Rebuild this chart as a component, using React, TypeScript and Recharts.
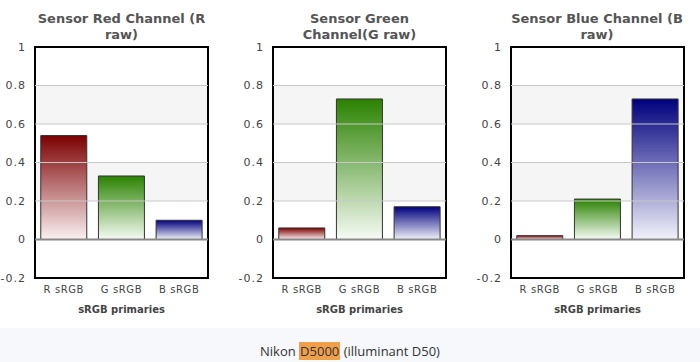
import { Bar, BarChart, Cell, ReferenceArea, ReferenceLine, XAxis, YAxis } from 'recharts';

const categories = ['R sRGB', 'G sRGB', 'B sRGB'];
const redChannel = [0.54, 0.33, 0.1];
const greenChannel = [0.06, 0.73, 0.17];
const blueChannel = [0.02, 0.21, 0.73];
const yTicks = [-0.2, 0, 0.2, 0.4, 0.6, 0.8, 1];
const grayBands = [
  [0.6, 0.8],
  [0.2, 0.4],
];
const gridLines = [0.2, 0.4, 0.6, 0.8];

const panels = [
  { id: 'r', title: ['Sensor Red Channel (R', 'raw)'], values: redChannel },
  { id: 'g', title: ['Sensor Green', 'Channel(G raw)'], values: greenChannel },
  { id: 'b', title: ['Sensor Blue Channel (B', 'raw)'], values: blueChannel },
];

const gradients = [
  { key: 'red', top: '#7c0000', bottom: '#fbf1f2' },
  { key: 'green', top: '#2a8200', bottom: '#f6fbf4' },
  { key: 'blue', top: '#00007e', bottom: '#f2f2fb' },
];

const PANEL_W = 233;
const PANEL_H = 328;
const PANEL_X = [0, 238, 475.5];

function Panel({ id, title, values, left }: { id: string; title: string[]; values: number[]; left: number }) {
  const data = categories.map((name, i) => ({ name, value: values[i] }));
  return (
    <div style={{ position: 'absolute', left, top: 0, width: PANEL_W, height: PANEL_H }}>
      <div
        style={{
          position: 'absolute',
          left: 35,
          width: 173,
          top: 11,
          textAlign: 'center',
          fontWeight: 'bold',
          fontSize: 13,
          lineHeight: '16px',
          color: '#555',
          whiteSpace: 'nowrap',
        }}
      >
        <div>{title[0]}</div>
        <div>{title[1]}</div>
      </div>
      <BarChart
        width={PANEL_W}
        height={PANEL_H}
        data={data}
        margin={{ top: 47, right: 25, left: 0, bottom: 0 }}
        barCategoryGap="10%"
      >
        <defs>
          {gradients.map((g) => (
            <linearGradient key={g.key} id={`${id}-${g.key}`} x1="0" y1="0" x2="0" y2="1">
              <stop offset="0%" stopColor={g.top} />
              <stop offset="100%" stopColor={g.bottom} />
            </linearGradient>
          ))}
        </defs>
        {grayBands.map(([a, b]) => (
          <ReferenceArea key={a} y1={a} y2={b} fill="#f5f5f5" fillOpacity={1} stroke="none" />
        ))}
        {gridLines.map((v) => (
          <ReferenceLine key={v} y={v} stroke="#c8c8c8" strokeWidth={1} />
        ))}
        <XAxis
          dataKey="name"
          height={50}
          axisLine={false}
          tickLine={false}
          tick={{ fontSize: 10, fill: '#444', letterSpacing: 0.6 }}
          label={{
            value: 'sRGB primaries',
            position: 'insideBottom',
            offset: 15,
            fontSize: 10,
            fontWeight: 'bold',
            fill: '#444',
          }}
        />
        <YAxis
          width={35}
          domain={[-0.2, 1]}
          ticks={yTicks}
          interval={0}
          axisLine={false}
          tickLine={false}
          tick={{ fontSize: 11, fill: '#444', letterSpacing: 1 }}
          tickMargin={3}
        />
        <Bar dataKey="value" stroke="#333" strokeWidth={1} isAnimationActive={false}>
          {data.map((d, i) => (
            <Cell key={d.name} fill={`url(#${id}-${gradients[i].key})`} />
          ))}
        </Bar>
        <ReferenceLine y={0} stroke="#888" strokeWidth={2} />
        <ReferenceArea y1={-0.2} y2={1} fill="none" stroke="#000" strokeWidth={2} ifOverflow="visible" />
      </BarChart>
    </div>
  );
}

export default function App() {
  return (
    <div
      style={{
        position: 'absolute',
        left: 0,
        top: 0,
        width: 700,
        height: 362,
        background: '#fff',
        fontFamily: '"DejaVu Sans", Verdana, sans-serif',
        overflow: 'hidden',
      }}
    >
      {panels.map((p, i) => (
        <Panel key={p.id} id={p.id} title={p.title} values={p.values} left={PANEL_X[i]} />
      ))}
      <div
        style={{
          position: 'absolute',
          left: 0,
          top: 328,
          width: 700,
          height: 34,
          background: '#f6f8fb',
          textAlign: 'center',
          fontFamily: '"Open Sans", sans-serif',
          fontSize: 13,
          color: '#333',
          lineHeight: '16px',
          paddingTop: 15,
          boxSizing: 'border-box',
        }}
      >
        Nikon <span style={{ background: '#f0a04b', padding: '0 1px' }}>D5000</span> (illuminant D50)
      </div>
    </div>
  );
}
